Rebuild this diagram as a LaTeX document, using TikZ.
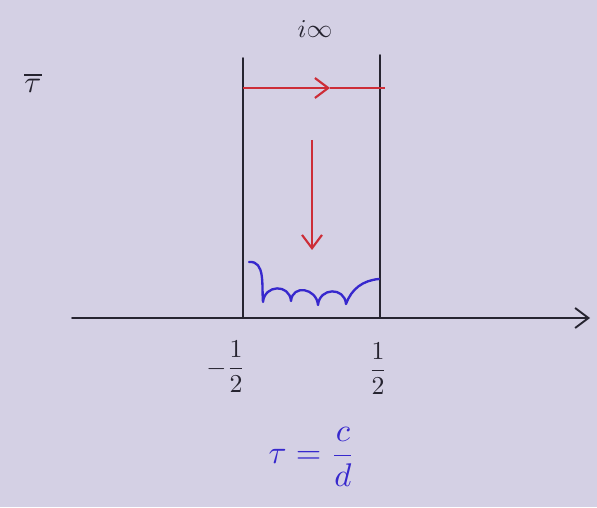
\documentclass[tikz,border=0pt]{standalone}
\usepackage{amsmath}
\usepackage{xcolor}
\usetikzlibrary{arrows.meta, positioning}

\definecolor{paper}{RGB}{212,208,228}
\definecolor{inkgray}{RGB}{38,36,48}
\definecolor{redink}{RGB}{205,45,55}
\definecolor{blueink}{RGB}{55,40,205}

\begin{document}
\begin{tikzpicture}[
    x=0.03cm, y=0.03cm,
    ink/.style={draw=inkgray, line width=1.6pt, line cap=round},
    axisarr/.style={ink, -{Straight Barb[length=4mm, width=6mm, line width=1.6pt]}},
    redarr/.style={draw=redink, line width=1.8pt, -{Straight Barb[length=4mm, width=6mm, line width=1.8pt]}},
    redline/.style={draw=redink, line width=1.8pt},
    scallop/.style={draw=blueink, line width=2pt, line cap=round, line join=round},
    lbl/.style={inner sep=0pt, text=inkgray, scale=2.2},
    bluelbl/.style={inner sep=0pt, text=blueink, scale=2.8}
]

\fill[paper] (0,0) rectangle (597,507);
\useasboundingbox (0,0) rectangle (597,507);

% real axis
\coordinate (axL) at (72,189);
\coordinate (axR) at (590,189);
\draw[axisarr] (axL) -- (axR);

% the strip
\coordinate (lb) at (243,189);
\coordinate (lt) at (243,449);
\coordinate (rb) at (380,189);
\coordinate (rt) at (380,452);
\draw[ink] (lb) -- (lt);
\draw[ink] (rb) -- (rt);

% red arrows
\coordinate (hL) at (243,419);
\coordinate (hM) at (330,419);
\coordinate (hR) at (385,419);
\draw[redarr] (hL) -- (hM);
\draw[redline] (hM) -- (hR);

\coordinate (vT) at (312,367);
\coordinate (vB) at (312,257);
\draw[redarr] (vT) -- (vB);

% blue circles at the bottom
\coordinate (b0) at (249,245);
\coordinate (b1) at (263,205);
\coordinate (b2) at (291,206);
\coordinate (b3) at (318,202);
\coordinate (b4) at (346,203);
\coordinate (b5) at (379,228);
\draw[scallop] (b0) to[out=5,in=95] (b1)
  to[out=85,in=95,looseness=1.6] (b2) to[out=85,in=95,looseness=1.6] (b3)
  to[out=85,in=95,looseness=1.6] (b4) to[out=70,in=185] (b5);

% labels
\node[lbl] (mhalf) at (226,140) {$-\dfrac{1}{2}$};
\node[lbl] (half) at (378,138) {$\dfrac{1}{2}$};
\node[lbl] (inf) at (315,478) {$i\infty$};
\node[lbl, scale=1.2] (taubar) at (33,424) {$\overline{\tau}$};
\node[bluelbl] (cusp) at (312,50) {$\tau=\dfrac{c}{d}$};

\end{tikzpicture}
\end{document}
